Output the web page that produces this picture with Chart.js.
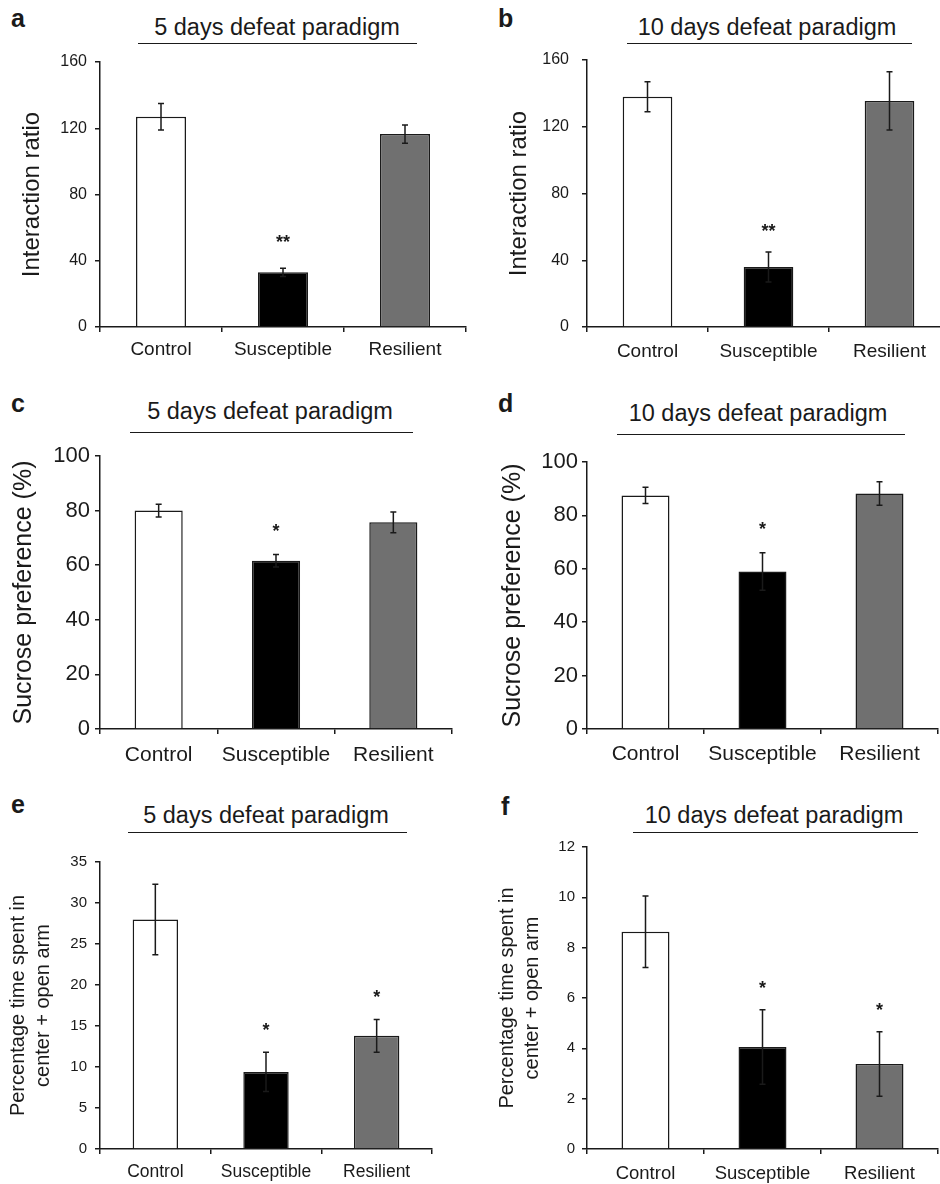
<!DOCTYPE html>
<html>
<head>
<meta charset="utf-8">
<script src="https://cdn.jsdelivr.net/npm/chart.js@4.4.0/dist/chart.umd.min.js"></script>
<style>
  html, body { margin: 0; padding: 0; background: #fff; }
  #page { position: relative; width: 940px; height: 1184px; overflow: hidden;
          font-family: 'Liberation Sans', Arial, sans-serif; color: #1a1a1a; }
  canvas { position: absolute; }
  .letter { position: absolute; font-weight: bold; font-size: 25px; line-height: 25px; }
  .title { position: absolute; font-size: 23.5px; line-height: 23px; white-space: nowrap; transform: translateX(-50%); }
  .rule { position: absolute; height: 0; border-top: 1.5px solid #1a1a1a; }
</style>
</head>
<body>
<div id="page">
  <div class="letter" style="left:11px;top:6px">a</div>
  <div class="letter" style="left:498px;top:6px">b</div>
  <div class="letter" style="left:11px;top:391px">c</div>
  <div class="letter" style="left:498px;top:391px">d</div>
  <div class="letter" style="left:11px;top:792px">e</div>
  <div class="letter" style="left:501px;top:794px">f</div>

  <div class="title" style="left:277px;top:16px">5 days defeat paradigm</div>
  <div class="title" style="left:767px;top:16px">10 days defeat paradigm</div>
  <div class="title" style="left:270px;top:400px">5 days defeat paradigm</div>
  <div class="title" style="left:758px;top:402px">10 days defeat paradigm</div>
  <div class="title" style="left:266px;top:804px">5 days defeat paradigm</div>
  <div class="title" style="left:774px;top:804px">10 days defeat paradigm</div>

  <div class="rule" style="left:138px;top:43px;width:279px"></div>
  <div class="rule" style="left:627px;top:43px;width:285px"></div>
  <div class="rule" style="left:130px;top:432px;width:283px"></div>
  <div class="rule" style="left:617px;top:434px;width:288px"></div>
  <div class="rule" style="left:128px;top:832px;width:279px"></div>
  <div class="rule" style="left:633px;top:832px;width:285px"></div>

  <canvas id="chartA" width="470" height="328" style="left:0;top:42px"></canvas>
  <canvas id="chartB" width="490" height="334" style="left:470px;top:36px"></canvas>
  <canvas id="chartC" width="470" height="344" style="left:0;top:436px"></canvas>
  <canvas id="chartD" width="470" height="340" style="left:470px;top:440px"></canvas>
  <canvas id="chartE" width="470" height="344" style="left:0;top:840px"></canvas>
  <canvas id="chartF" width="470" height="354" style="left:470px;top:830px"></canvas>
</div>
<script>
// groups
const categories = ['Control', 'Susceptible', 'Resilient'];
const barColors = ['#ffffff', '#000000', '#707070'];

// social interaction
const interaction5 = [127, 33, 116.5];
const interaction5Err = [8, 2.5, 5.5];
const interaction5Sig = ['', '**', ''];
const interaction10 = [138, 36, 135.5];
const interaction10Err = [9, 9, 17.5];
const interaction10Sig = ['', '**', ''];

// sucrose preference
const sucrose5 = [80, 61.6, 75.7];
const sucrose5Err = [2.3, 2.3, 3.8];
const sucrose5Sig = ['', '*', ''];
const sucrose10 = [87.5, 59, 88.2];
const sucrose10Err = [3, 7, 4.4];
const sucrose10Sig = ['', '*', ''];

// elevated plus maze
const openArm5 = [28, 9.4, 13.8];
const openArm5Err = [4.3, 2.4, 2];
const openArm5Sig = ['', '*', '*'];
const openArm10 = [8.63, 4.05, 3.38];
const openArm10Err = [1.42, 1.48, 1.28];
const openArm10Sig = ['', '*', '*'];

const ink = '#1a1a1a';
const fontFamily = "'Liberation Sans', Arial, sans-serif";

// error bars + significance stars
function errorBarPlugin(errors, stars, starGap) {
    return {
        id: 'errorBars',
        afterDatasetsDraw(chart) {
            const ctx = chart.ctx;
            const y = chart.scales.y;
            const values = chart.data.datasets[0].data;
            ctx.save();
            ctx.strokeStyle = ink;
            ctx.fillStyle = ink;
            ctx.lineWidth = 1.5;
            chart.getDatasetMeta(0).data.forEach((bar, i) => {
                const top = y.getPixelForValue(values[i] + errors[i]);
                const bot = y.getPixelForValue(values[i] - errors[i]);
                ctx.beginPath();
                ctx.moveTo(bar.x, top); ctx.lineTo(bar.x, bot);
                ctx.moveTo(bar.x - 3, top); ctx.lineTo(bar.x + 3, top);
                ctx.moveTo(bar.x - 3, bot); ctx.lineTo(bar.x + 3, bot);
                ctx.stroke();
                if (stars[i]) {
                    ctx.font = 'bold 18px ' + fontFamily;
                    ctx.textAlign = 'center';
                    ctx.textBaseline = 'middle';
                    ctx.fillText(stars[i], bar.x, top - starGap);
                }
            });
            ctx.restore();
        }
    };
}

function makePanel(p) {
    new Chart(document.getElementById(p.id), {
        type: 'bar',
        data: {
            labels: categories,
            datasets: [{
                data: p.values,
                backgroundColor: barColors,
                borderColor: ink,
                borderWidth: 1.5,
                barPercentage: 0.41,
                categoryPercentage: 1
            }]
        },
        options: {
            responsive: false,
            animation: false,
            events: [],
            layout: { padding: { left: 0, top: p.padTop, right: p.padRight, bottom: 0 } },
            plugins: { legend: { display: false }, tooltip: { enabled: false } },
            scales: {
                x: {
                    afterFit: s => { s.height = p.xHeight; },
                    border: { color: ink, width: 1.5 },
                    grid: { drawOnChartArea: false, color: ink, lineWidth: 1.5, tickLength: 5 },
                    ticks: { color: ink, padding: p.xTickPad, font: { family: fontFamily, size: p.catSize } }
                },
                y: {
                    min: 0,
                    max: p.max,
                    afterFit: s => { s.width = p.yWidth; },
                    border: { color: ink, width: 1.5 },
                    grid: { drawOnChartArea: false, color: ink, lineWidth: 1.5, tickLength: 5 },
                    ticks: { stepSize: p.step, color: ink, padding: p.yTickPad, font: { family: fontFamily, size: p.tickSize } },
                    title: {
                        display: true,
                        text: p.yTitle,
                        color: ink,
                        padding: { top: p.titlePad, bottom: 0 },
                        font: { family: fontFamily, size: p.titleSize, lineHeight: 1.25 }
                    }
                }
            }
        },
        plugins: [errorBarPlugin(p.errors, p.stars, p.starGap)]
    });
}

makePanel({ id: 'chartA', values: interaction5, errors: interaction5Err, stars: interaction5Sig,
    max: 160, step: 40, yTitle: 'Interaction ratio',
    yWidth: 100, xHeight: 43, padTop: 20, padRight: 4,
    tickSize: 16, catSize: 19, titleSize: 24, titlePad: 17, yTickPad: 8, xTickPad: 6, starGap: 25 });

makePanel({ id: 'chartB', values: interaction10, errors: interaction10Err, stars: interaction10Sig,
    max: 160, step: 40, yTitle: 'Interaction ratio',
    yWidth: 117, xHeight: 43, padTop: 24, padRight: 10,
    tickSize: 16, catSize: 19, titleSize: 24, titlePad: 34, yTickPad: 13, xTickPad: 8, starGap: 20 });

makePanel({ id: 'chartC', values: sucrose5, errors: sucrose5Err, stars: sucrose5Sig,
    max: 100, step: 20, yTitle: 'Sucrose preference (%)',
    yWidth: 100, xHeight: 51, padTop: 20, padRight: 18,
    tickSize: 22, catSize: 21, titleSize: 25, titlePad: 8, yTickPad: 5, xTickPad: 9, starGap: 23 });

makePanel({ id: 'chartD', values: sucrose10, errors: sucrose10Err, stars: sucrose10Sig,
    max: 100, step: 20, yTitle: 'Sucrose preference (%)',
    yWidth: 117, xHeight: 51, padTop: 22, padRight: 2,
    tickSize: 22, catSize: 21, titleSize: 25, titlePad: 27, yTickPad: 4, xTickPad: 8, starGap: 23 });

makePanel({ id: 'chartE', values: openArm5, errors: openArm5Err, stars: openArm5Sig,
    max: 35, step: 5, yTitle: ['Percentage time spent in', 'center + open arm'],
    yWidth: 100, xHeight: 35, padTop: 22, padRight: 38,
    tickSize: 15, catSize: 17.5, titleSize: 20, titlePad: 6, yTickPad: 8, xTickPad: 8, starGap: 21 });

makePanel({ id: 'chartF', values: openArm10, errors: openArm10Err, stars: openArm10Sig,
    max: 12, step: 2, yTitle: ['Percentage time spent in', 'center + open arm'],
    yWidth: 117, xHeight: 35, padTop: 17, padRight: 2,
    tickSize: 15, catSize: 18.5, titleSize: 20, titlePad: 25, yTickPad: 7, xTickPad: 8.5, starGap: 21 });
</script>
</body>
</html>
